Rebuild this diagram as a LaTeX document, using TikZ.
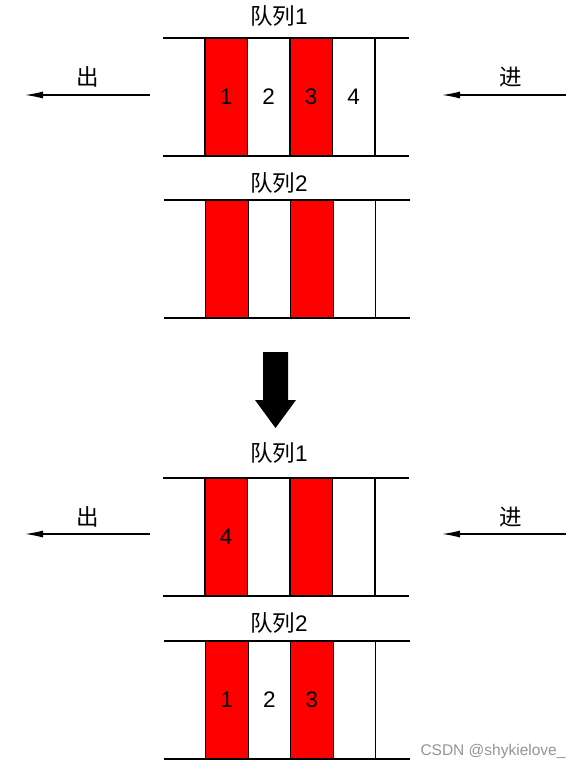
\documentclass[tikz,border=0pt]{standalone}
\usepackage{fontspec}
\setmainfont{Liberation Sans}
\newfontfamily\cjk{Noto Sans CJK SC}
\usetikzlibrary{positioning,arrows.meta}

\begin{document}
\begin{tikzpicture}[x=1pt,y=-1pt,
		every node/.style={font=\fontsize{22.5}{27}\selectfont, inner sep=0pt},
		cell/.style={draw, line width=1.2pt, outer sep=0pt,
			minimum width=42.5pt, minimum height=118pt},
		redcell/.style={cell, fill=red},
		rail/.style={line width=1.2pt},
		flow/.style={line width=1.2pt, -{Latex[length=18pt,width=7pt]}},
		wmark/.style={font=\fontsize{15.5}{18}\selectfont, text=black!42},
		]
		\useasboundingbox (0,0) rectangle (582,769);

		% queue 1 (before)
		\node (t1) at (279,16) {{\cjk 队列}1};
		\node[redcell] (q1a) at (226.25,97) {1};
		\node[cell, right=0pt of q1a] (q1b) {2};
		\node[redcell, right=0pt of q1b] (q1c) {3};
		\node[cell, right=0pt of q1c] (q1d) {4};
		\draw[rail] ([xshift=-42pt]q1a.north west) -- ([xshift=34pt]q1d.north east);
		\draw[rail] ([xshift=-42pt]q1a.south west) -- ([xshift=34pt]q1d.south east);

		\node (out1) at (88,77) {\cjk 出};
		\coordinate (out1s) at (150,95);
		\coordinate (out1e) at (25,95);
		\draw[flow] (out1s) -- (out1e);
		\node (in1) at (511,77) {\cjk 进};
		\coordinate (in1s) at (566,95);
		\coordinate (in1e) at (442,95);
		\draw[flow] (in1s) -- (in1e);

		% queue 2 (before)
		\node (t2) at (279,183) {{\cjk 队列}2};
		\node[redcell] (q2a) at (227,259) {};
		\node[cell, right=0pt of q2a] (q2b) {};
		\node[redcell, right=0pt of q2b] (q2c) {};
		\node[cell, right=0pt of q2c] (q2d) {};
		\draw[rail] ([xshift=-42pt]q2a.north west) -- ([xshift=34pt]q2d.north east);
		\draw[rail] ([xshift=-42pt]q2a.south west) -- ([xshift=34pt]q2d.south east);

		% big arrow
		\coordinate (down) at (275.5,352);
		\fill ([xshift=-12.5pt]down) -- ++(25,0) -- ++(0,48) -- ++(8,0)
			-- ++(-20.5,28) -- ++(-20.5,-28) -- ++(8,0) -- cycle;

		% queue 1 (after)
		\node (t3) at (279,453) {{\cjk 队列}1};
		\node[redcell] (q3a) at (226.25,537) {4};
		\node[cell, right=0pt of q3a] (q3b) {};
		\node[redcell, right=0pt of q3b] (q3c) {};
		\node[cell, right=0pt of q3c] (q3d) {};
		\draw[rail] ([xshift=-42pt]q3a.north west) -- ([xshift=34pt]q3d.north east);
		\draw[rail] ([xshift=-42pt]q3a.south west) -- ([xshift=34pt]q3d.south east);

		\node (out3) at (88,517) {\cjk 出};
		\coordinate (out3s) at (150,534);
		\coordinate (out3e) at (25,534);
		\draw[flow] (out3s) -- (out3e);
		\node (in3) at (511,517) {\cjk 进};
		\coordinate (in3s) at (566,534);
		\coordinate (in3e) at (442,534);
		\draw[flow] (in3s) -- (in3e);

		% queue 2 (after)
		\node (t4) at (279,623) {{\cjk 队列}2};
		\node[redcell] (q4a) at (227,700) {1};
		\node[cell, right=0pt of q4a] (q4b) {2};
		\node[redcell, right=0pt of q4b] (q4c) {3};
		\node[cell, right=0pt of q4c] (q4d) {};
		\draw[rail] ([xshift=-42pt]q4a.north west) -- ([xshift=34pt]q4d.north east);
		\draw[rail] ([xshift=-42pt]q4a.south west) -- ([xshift=34pt]q4d.south east);

		\node[wmark] (wm) at (493,751) {CSDN @shykielove\_};
\end{tikzpicture}
\end{document}
